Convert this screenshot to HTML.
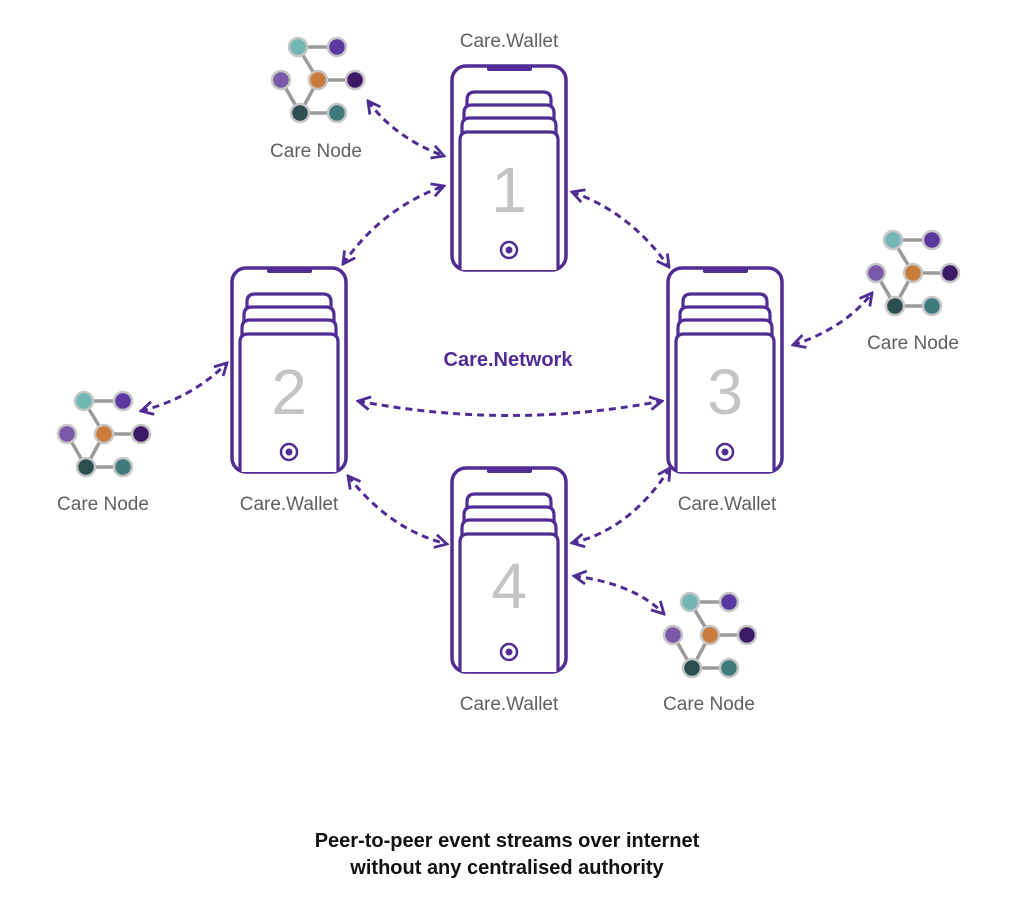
<!DOCTYPE html>
<html><head><meta charset="utf-8"><style>
html,body{margin:0;padding:0;background:#fff;}
svg{display:block;}
text{font-family:"Liberation Sans",sans-serif;}
</style></head><body>
<svg width="1024" height="914" viewBox="0 0 1024 914" xmlns="http://www.w3.org/2000/svg">
<defs>
<marker id="ah" viewBox="0 0 16 16" refX="14" refY="8" markerWidth="16" markerHeight="16" markerUnits="userSpaceOnUse" orient="auto-start-reverse">
<path d="M2,1.5 L14,8 L2,14.5" fill="none" stroke="#4f2d94" stroke-width="2.8" stroke-linejoin="miter"/>
</marker>
<g id="phone">
<rect x="0" y="0" width="114" height="204" rx="14" fill="#fff" stroke="#4f2d94" stroke-width="3.5"/>
<rect x="35" y="-1" width="45" height="6" rx="2" fill="#4f2d94"/>
<path d="M15,45 V34 Q15,26 23,26 H91 Q99,26 99,34 V45" fill="none" stroke="#4f2d94" stroke-width="3.2"/>
<path d="M12,58 V47 Q12,39 20,39 H94 Q102,39 102,47 V58" fill="#fff" stroke="#4f2d94" stroke-width="3.2"/>
<path d="M10,70 V60 Q10,52 18,52 H96 Q104,52 104,60 V70" fill="#fff" stroke="#4f2d94" stroke-width="3.2"/>
<path d="M8,204 V74 Q8,66 16,66 H98 Q106,66 106,74 V204" fill="#fff" stroke="#4f2d94" stroke-width="3.2"/>
<circle cx="57" cy="184" r="8" fill="none" stroke="#4f2d94" stroke-width="2.5"/>
<circle cx="57" cy="184" r="3.5" fill="#4f2d94"/>
</g>
<g id="node">
<g stroke="#9a9a9a" stroke-width="3.5">
<line x1="0" y1="0" x2="39" y2="0"/><line x1="0" y1="0" x2="20" y2="33"/>
<line x1="20" y1="33" x2="57" y2="33"/><line x1="20" y1="33" x2="2" y2="66"/>
<line x1="-17" y1="33" x2="2" y2="66"/><line x1="2" y1="66" x2="39" y2="66"/>
</g>
<g stroke="#c6c6c6" stroke-width="2.5">
<circle cx="0" cy="0" r="9" fill="#72b7b3"/>
<circle cx="39" cy="0" r="9" fill="#5a3aa0"/>
<circle cx="-17" cy="33" r="9" fill="#7a5aa8"/>
<circle cx="20" cy="33" r="9" fill="#c97b3c"/>
<circle cx="57" cy="33" r="9" fill="#3c1a66"/>
<circle cx="2" cy="66" r="9" fill="#2d4e4e"/>
<circle cx="39" cy="66" r="9" fill="#3f7b7b"/>
</g>
</g>
</defs>
<use href="#phone" x="452" y="66"/>
<use href="#phone" x="232" y="268"/>
<use href="#phone" x="668" y="268"/>
<use href="#phone" x="452" y="468"/>
<g font-size="64" fill="#c4c4c4" text-anchor="middle">
<text x="509" y="212">1</text><text x="289" y="414">2</text><text x="725" y="414">3</text><text x="509" y="608">4</text>
</g>
<use href="#node" x="298" y="47"/>
<use href="#node" x="893" y="240"/>
<use href="#node" x="84" y="401"/>
<use href="#node" x="690" y="602"/>
<g font-size="19" fill="#606060" text-anchor="middle">
<text x="509" y="47">Care.Wallet</text>
<text x="289" y="510">Care.Wallet</text>
<text x="727" y="510">Care.Wallet</text>
<text x="509" y="710">Care.Wallet</text>
<text x="316" y="157">Care Node</text>
<text x="913" y="349">Care Node</text>
<text x="103" y="510">Care Node</text>
<text x="709" y="710">Care Node</text>
</g>
<text x="508" y="366" font-size="20" font-weight="bold" fill="#4f2d94" text-anchor="middle">Care.Network</text>
<g fill="none" stroke="#4f2d94" stroke-width="3" stroke-dasharray="7,5" marker-start="url(#ah)" marker-end="url(#ah)">
<path d="M368,101 Q395,138 444,156"/>
<path d="M343,264 Q382,208 444,186"/>
<path d="M572,192 Q630,212 669,267"/>
<path d="M793,345 Q845,328 872,293"/>
<path d="M141,411 Q192,398 227,363"/>
<path d="M358,401 Q510,430 662,401"/>
<path d="M348,476 Q390,530 447,544"/>
<path d="M670,468 Q630,530 572,543"/>
<path d="M574,576 Q635,584 664,614"/>
</g>
<g font-size="20" font-weight="bold" fill="#111" text-anchor="middle">
<text x="507" y="847">Peer-to-peer event streams over internet</text>
<text x="507" y="874">without any centralised authority</text>
</g>
</svg>
</body></html>
